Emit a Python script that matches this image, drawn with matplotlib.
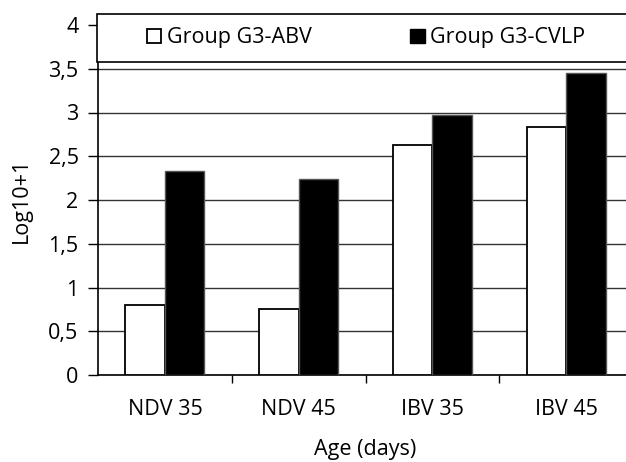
import matplotlib.pyplot as plt
from matplotlib.patches import Patch, Rectangle

# data
categories = ['NDV 35', 'NDV 45', 'IBV 35', 'IBV 45']
abv = [0.80, 0.75, 2.63, 2.83]
cvlp = [2.33, 2.24, 2.97, 3.45]
series_names = ['Group G3-ABV', 'Group G3-CVLP']
y_ticks = [0, 0.5, 1, 1.5, 2, 2.5, 3, 3.5, 4]
y_ticklabels = ['0', '0,5', '1', '1,5', '2', '2,5', '3', '3,5', '4']

plt.rcParams['font.family'] = ['Open Sans', 'DejaVu Sans']
plt.rcParams['font.size'] = 15.5

W, H = 626, 462
fig = plt.figure(figsize=(W / 100, H / 100), dpi=100)
ax = fig.add_axes([98 / W, (H - 375) / H, 535 / W, 350 / H])

x = list(range(len(categories)))
bw = 0.296
ax.bar([i - bw / 2 for i in x], abv, width=bw, color='white', edgecolor='black', linewidth=1.3, zorder=3)
ax.bar([i + bw / 2 for i in x], cvlp, width=bw, color='black', edgecolor='#555555', linewidth=1.0, zorder=3)

ax.set_xlim(-0.5, 3.5)
ax.set_ylim(0, 4)
ax.set_yticks(y_ticks)
ax.set_yticklabels(y_ticklabels)
ax.set_xticks(x)
ax.set_xticklabels(categories)
ax.set_xticks([0.5, 1.5, 2.5], minor=True)
ax.tick_params(axis='x', which='major', length=0, pad=17)
ax.tick_params(axis='x', which='minor', length=6, width=1, direction='out')
ax.tick_params(axis='y', length=7, width=1, pad=7, direction='out')

ax.grid(axis='y', color='#333333', linewidth=1, zorder=0)
ax.set_axisbelow(True)
for s in ['top', 'right']:
    ax.spines[s].set_visible(False)
for s in ['left', 'bottom']:
    ax.spines[s].set_linewidth(1.2)

ax.set_xlabel('Age (days)', labelpad=14)
ax.set_ylabel('Log10+1', labelpad=12)

# legend box across the top
frame = Rectangle((97 / W, (H - 62) / H), 560 / W, 48 / H, transform=fig.transFigure,
                  facecolor='white', edgecolor='black', linewidth=1.2, zorder=4)
fig.add_artist(frame)
handles = [Patch(facecolor='white', edgecolor='black', linewidth=1.3),
           Patch(facecolor='black', edgecolor='black')]
fig.legend(handles, series_names, loc='center left', bbox_to_anchor=(147 / W, 1 - 38 / H),
           frameon=False, ncol=2, borderpad=0, borderaxespad=0, handlelength=0.66,
           handleheight=0.66, handletextpad=0.25, columnspacing=4.6)

fig.savefig('out.png', dpi=100)
